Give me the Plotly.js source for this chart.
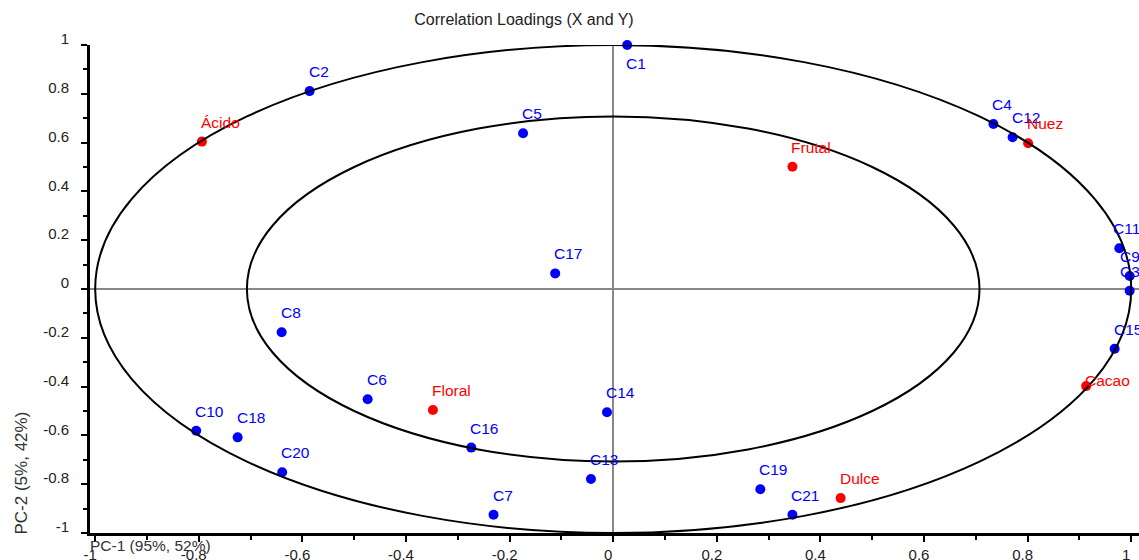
<!DOCTYPE html>
<html>
<head>
<meta charset="utf-8">
<script src="https://cdn.plot.ly/plotly-3.0.1.min.js"></script>
<style>html,body{margin:0;padding:0;background:#fff;}#chart{width:1139px;height:560px;}</style>
</head>
<body>
<div id="chart"></div>
<script>
// X loadings (blue) and Y loadings (red)
const xNames = ['C1','C2','C3','C4','C5','C6','C7','C8','C9','C10','C11','C12','C13','C14','C15','C16','C17','C18','C19','C20','C21'];
const xPC1 = [0.027,-0.586,0.997,0.734,-0.174,-0.474,-0.231,-0.640,0.997,-0.805,0.977,0.771,-0.043,-0.012,0.968,-0.274,-0.112,-0.725,0.284,-0.639,0.346];
const xPC2 = [1.000,0.811,-0.007,0.676,0.638,-0.452,-0.925,-0.177,0.053,-0.581,0.167,0.622,-0.779,-0.505,-0.245,-0.650,0.064,-0.608,-0.821,-0.751,-0.925];

const yNames = ['Ácido','Frutal','Nuez','Floral','Cacao','Dulce'];
const yPC1 = [-0.794,0.346,0.801,-0.348,0.913,0.439];
const yPC2 = [0.604,0.501,0.597,-0.496,-0.398,-0.857];

const circleRadii = [1.0, 0.7071];

const tickVals = [-1,-0.8,-0.6,-0.4,-0.2,0,0.2,0.4,0.6,0.8,1];
const tickText = ['-1','-0.8','-0.6','-0.4','-0.2','0','0.2','0.4','0.6','0.8','1'];

const chartTitle = 'Correlation Loadings (X and Y)';
const xTitle = 'PC-1 (95%, 52%)';
const yTitle = 'PC-2 (5%, 42%)';

// label placement tweaks (pixels)
const labelNudge = {C11:[-5,0], C9:[-9,0], C3:[-9,0], Cacao:[0,-14]};

const FONT = '"Liberation Sans", Arial, sans-serif';
const BLUE = '#0000ff';
const RED = '#ff0000';

const traces = [
  {type:'scatter', mode:'markers', x:xPC1, y:xPC2, text:xNames, hoverinfo:'text+x+y',
   marker:{color:BLUE, size:10}, cliponaxis:false, showlegend:false},
  {type:'scatter', mode:'markers', x:yPC1, y:yPC2, text:yNames, hoverinfo:'text+x+y',
   marker:{color:RED, size:10}, cliponaxis:false, showlegend:false}
];

const annotations = [];
function addLabels(names, xs, ys, color){
  names.forEach((n,i)=>{
    const nd = labelNudge[n] || [0,0];
    const below = (n === 'C1');
    annotations.push({
      x: xs[i], y: ys[i], xref:'x', yref:'y', text:n, showarrow:false,
      xanchor:'left', yanchor: below ? 'top' : 'bottom',
      xshift: -3 + nd[0], yshift: (below ? -8 : 9) + nd[1],
      font:{family:FONT, size:15.5, color:color}
    });
  });
}
addLabels(xNames, xPC1, xPC2, BLUE);
addLabels(yNames, yPC1, yPC2, RED);

annotations.push({
  xref:'paper', yref:'paper', x:0, y:0, xanchor:'left', yanchor:'middle',
  xshift:-2, yshift:-12, text:xTitle, showarrow:false,
  font:{family:FONT, size:15.5, color:'#333'}
});
annotations.push({
  xref:'paper', yref:'paper', x:0, y:0, xanchor:'center', yanchor:'bottom', textangle:-90,
  xshift:-69, yshift:-4, text:yTitle, showarrow:false,
  font:{family:FONT, size:17, color:'#333'}
});

const shapes = circleRadii.map(r => ({
  type:'circle', xref:'x', yref:'y', x0:-r, x1:r, y0:-r, y1:r,
  line:{color:'#000', width:2}, layer:'above'
}));

const axisCommon = {
  showgrid:false, zeroline:true, zerolinecolor:'#888', zerolinewidth:2,
  showline:true, linecolor:'#000', linewidth:3,
  ticks:'outside', ticklen:6, tickwidth:2, tickcolor:'#000',
  tickmode:'array', tickvals:tickVals, ticktext:tickText,
  tickfont:{family:FONT, size:15, color:'#222'},
  minor:{dtick:0.1, tick0:0, ticks:'outside', ticklen:4, tickwidth:2, tickcolor:'#000', showgrid:false},
  fixedrange:true
};

const layout = {
  width:1139, height:560,
  margin:{l:90, r:0, t:45, b:27},
  paper_bgcolor:'#fff', plot_bgcolor:'#fff',
  title:{text:chartTitle, x:524/1139, xref:'container', xanchor:'center',
         y:1-19/560, yref:'container', yanchor:'middle',
         font:{family:FONT, size:16, color:'#222'}},
  xaxis:Object.assign({}, axisCommon, {range:[-1.01,1.015], ticklabelshift:-5, ticklabelstandoff:0}),
  yaxis:Object.assign({}, axisCommon, {range:[-1,1], ticklabelshift:-6, ticklabelstandoff:9}),
  shapes:shapes,
  annotations:annotations,
  showlegend:false
};

Plotly.newPlot('chart', traces, layout, {displayModeBar:false, staticPlot:true});
</script>
</body>
</html>
